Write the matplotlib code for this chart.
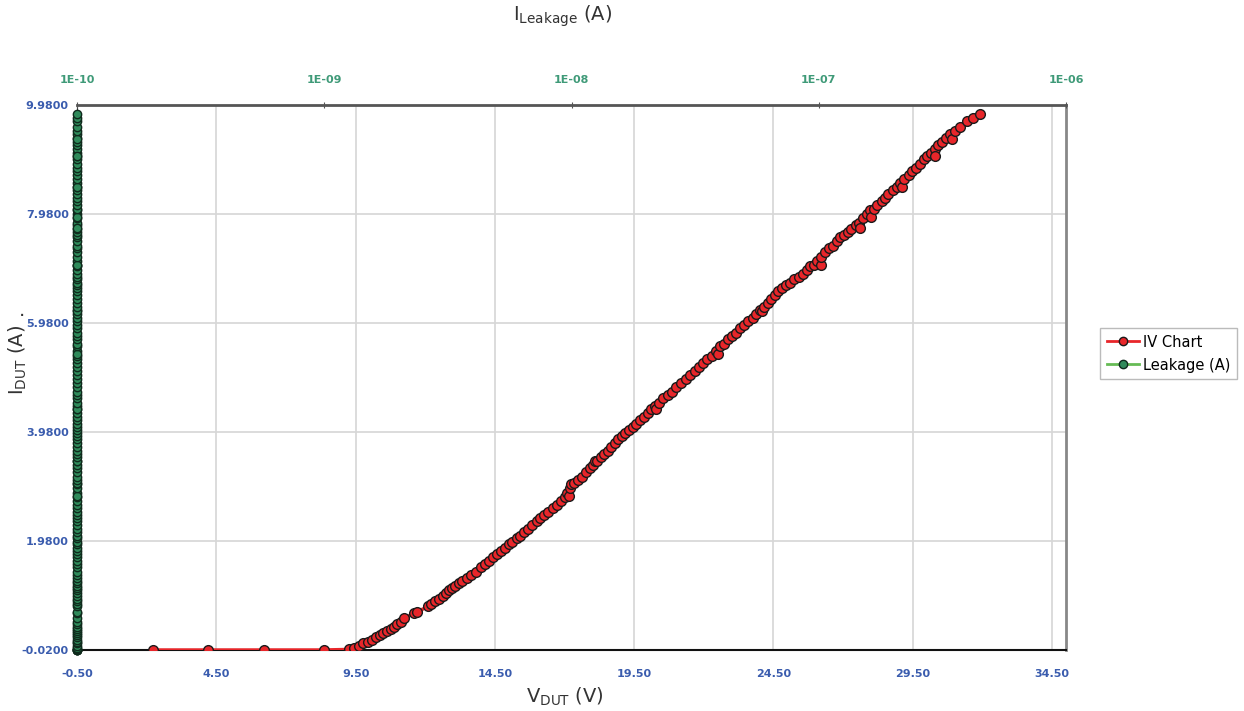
import matplotlib.pyplot as plt
import matplotlib.ticker as mticker
from matplotlib.lines import Line2D

# IV sweep (V_DUT in volts, I_DUT in amps)
v_dut = [2.22, 4.19, 6.20, 8.35, 9.25, 9.45, 9.62, 9.78, 9.93, 10.08, 10.22, 10.36,
         10.50, 10.63, 10.76, 10.88, 11.00, 11.12, 11.25, 11.60, 11.72, 12.10, 12.22,
         12.35, 12.48, 12.62, 12.75, 12.85, 12.95, 13.08, 13.20, 13.33, 13.50, 13.65,
         13.82, 14.00, 14.15, 14.30, 14.45, 14.58, 14.72, 14.85, 15.00, 15.12, 15.28,
         15.40, 15.55, 15.70, 15.85, 16.00, 16.12, 16.28, 16.42, 16.58, 16.72, 16.88,
         17.00, 17.10, 17.15, 17.18, 17.22, 17.35, 17.50, 17.62, 17.78, 17.90, 18.02,
         18.10, 18.15, 18.30, 18.42, 18.55, 18.68, 18.80, 18.92, 19.05, 19.18, 19.30,
         19.45, 19.58, 19.72, 19.85, 20.00, 20.12, 20.25, 20.30, 20.40, 20.55, 20.70,
         20.85, 21.00, 21.18, 21.35, 21.50, 21.68, 21.82, 21.98, 22.12, 22.28, 22.42,
         22.50, 22.58, 22.72, 22.88, 23.02, 23.15, 23.30, 23.45, 23.60, 23.75, 23.88,
         24.02, 24.10, 24.15, 24.30, 24.42, 24.55, 24.65, 24.80, 24.95, 25.10, 25.22,
         25.40, 25.55, 25.70, 25.82, 25.95, 26.08, 26.20, 26.22, 26.35, 26.50, 26.62,
         26.78, 26.90, 27.02, 27.18, 27.30, 27.45, 27.58, 27.60, 27.72, 27.85, 27.95,
         28.00, 28.10, 28.22, 28.38, 28.50, 28.62, 28.78, 28.92, 29.05, 29.10, 29.20,
         29.35, 29.48, 29.62, 29.75, 29.90, 30.02, 30.15, 30.28, 30.30, 30.42, 30.55,
         30.70, 30.85, 30.90, 31.00, 31.20, 31.45, 31.65, 31.92]
i_dut = [-0.02, -0.02, -0.02, -0.02, -0.01, 0.02, 0.06, 0.10, 0.13, 0.17, 0.21, 0.25,
         0.29, 0.33, 0.37, 0.41, 0.46, 0.50, 0.56, 0.66, 0.68, 0.78, 0.83,
         0.88, 0.92, 0.98, 1.03, 1.08, 1.12, 1.16, 1.21, 1.25, 1.30, 1.35,
         1.42, 1.50, 1.55, 1.62, 1.68, 1.74, 1.79, 1.85, 1.92, 1.96, 2.03,
         2.08, 2.14, 2.20, 2.28, 2.35, 2.40, 2.46, 2.52, 2.59, 2.64, 2.72,
         2.79, 2.86, 2.80, 2.95, 3.02, 3.04, 3.10, 3.16, 3.24, 3.32, 3.38,
         3.45, 3.44, 3.52, 3.58, 3.64, 3.71, 3.78, 3.85, 3.90, 3.97, 4.02,
         4.08, 4.12, 4.20, 4.26, 4.33, 4.40, 4.46, 4.40, 4.52, 4.60, 4.66,
         4.72, 4.80, 4.87, 4.95, 5.02, 5.10, 5.18, 5.25, 5.32, 5.38, 5.47,
         5.42, 5.55, 5.60, 5.68, 5.75, 5.80, 5.88, 5.95, 6.02, 6.08, 6.15,
         6.22, 6.20, 6.28, 6.35, 6.42, 6.50, 6.57, 6.62, 6.68, 6.72, 6.78,
         6.82, 6.88, 6.95, 7.02, 7.05, 7.12, 7.05, 7.20, 7.28, 7.35, 7.40,
         7.48, 7.55, 7.60, 7.65, 7.70, 7.78, 7.82, 7.72, 7.90, 7.98, 8.05,
         7.92, 8.08, 8.15, 8.22, 8.28, 8.35, 8.42, 8.48, 8.55, 8.48, 8.62,
         8.70, 8.76, 8.82, 8.90, 8.98, 9.05, 9.10, 9.18, 9.05, 9.25, 9.30,
         9.38, 9.45, 9.35, 9.50, 9.58, 9.68, 9.75, 9.82]

# leakage current stays at the 1E-10 floor for every sample
leak_a = [1e-10] * len(i_dut)

x_ticks = [-0.5, 4.5, 9.5, 14.5, 19.5, 24.5, 29.5, 34.5]
y_ticks = [-0.02, 1.98, 3.98, 5.98, 7.98, 9.98]
top_ticks = [1e-10, 1e-9, 1e-8, 1e-7, 1e-6]
top_labels = ['1E-10', '1E-09', '1E-08', '1E-07', '1E-06']

blue = '#3a5cae'
green = '#3f9a78'

fig = plt.figure(figsize=(12.44, 7.11), dpi=100)
ax = fig.add_axes([77 / 1244, 61 / 711, 989 / 1244, 545 / 711])

ax.plot(v_dut, i_dut, color='#e8262a', linewidth=2.5, marker='o', markersize=7,
        markerfacecolor='#e8262a', markeredgecolor='#1a1a1a', markeredgewidth=1.0,
        zorder=3)

ax.set_xlim(-0.5, 35.0)
ax.set_ylim(-0.02, 9.98)
ax.set_xticks(x_ticks)
ax.set_xticklabels([f'{t:.2f}' for t in x_ticks])
ax.set_yticks(y_ticks)
ax.set_yticklabels([f'{t:.4f}' for t in y_ticks])
ax.tick_params(axis='both', length=0, labelsize=8, labelcolor=blue, pad=14)
ax.tick_params(axis='y', pad=6)
for lbl in ax.get_xticklabels() + ax.get_yticklabels():
    lbl.set_fontweight('bold')
ax.grid(True, color='#d6d6d6', linewidth=1.2)
ax.set_axisbelow(True)
ax.spines['bottom'].set_color('#111111')
ax.spines['bottom'].set_linewidth(1.5)
ax.spines['left'].set_color('#333333')
ax.spines['right'].set_color('#888888')
ax.spines['right'].set_linewidth(2)
ax.spines['top'].set_visible(False)

ax2 = ax.twiny()
ax2.set_xscale('log')
ax2.set_xlim(1e-10, 1e-6)
ax2.plot(leak_a, i_dut, color='#5cb85c', linewidth=2, marker='o', markersize=6,
         markerfacecolor='#2f8a5a', markeredgecolor='#0f2a1c', markeredgewidth=1.0,
         clip_on=False, zorder=4)
ax2.xaxis.set_major_locator(mticker.FixedLocator(top_ticks))
ax2.xaxis.set_minor_locator(mticker.NullLocator())
ax2.set_xticklabels(top_labels)
ax2.tick_params(axis='x', direction='inout', length=5, color='#555555',
                labelsize=8, labelcolor=green, pad=12)
for lbl in ax2.get_xticklabels():
    lbl.set_fontweight('bold')
ax2.spines['top'].set_color('#555555')
ax2.spines['top'].set_linewidth(2)
for s in ['bottom', 'left', 'right']:
    ax2.spines[s].set_visible(False)

fig.text(563 / 1244, 1 - 16 / 711, r'I$_{\rm Leakage}$ (A)', fontsize=14,
         color='#333333', ha='center', va='center')
fig.text(565 / 1244, 1 - 697 / 711, r'V$_{\rm DUT}$ (V)', fontsize=14,
         color='#333333', ha='center', va='center')
fig.text(18 / 1244, 1 - 360 / 711, r'I$_{\rm DUT}$ (A)', fontsize=14,
         color='#333333', ha='center', va='center', rotation=90)
fig.text(22 / 1244, 1 - 310 / 711, '.', fontsize=14, color='#333333',
         ha='center', va='center')

handles = [
    Line2D([], [], color='#e8262a', linewidth=2, marker='o', markersize=6,
           markerfacecolor='#e8262a', markeredgecolor='#1a1a1a'),
    Line2D([], [], color='#66bb55', linewidth=2, marker='o', markersize=6,
           markerfacecolor='#2f8a5a', markeredgecolor='#0f2a1c'),
]
fig.legend(handles, ['IV Chart', 'Leakage (A)'], loc='upper left',
           bbox_to_anchor=(1100 / 1244, 1 - 328 / 711), borderaxespad=0,
           fontsize=10.5, frameon=True, fancybox=False, edgecolor='#aaaaaa',
           handlelength=2.2, handletextpad=0.3, borderpad=0.45,
           labelspacing=0.55)

fig.savefig('out.png', dpi=100)
